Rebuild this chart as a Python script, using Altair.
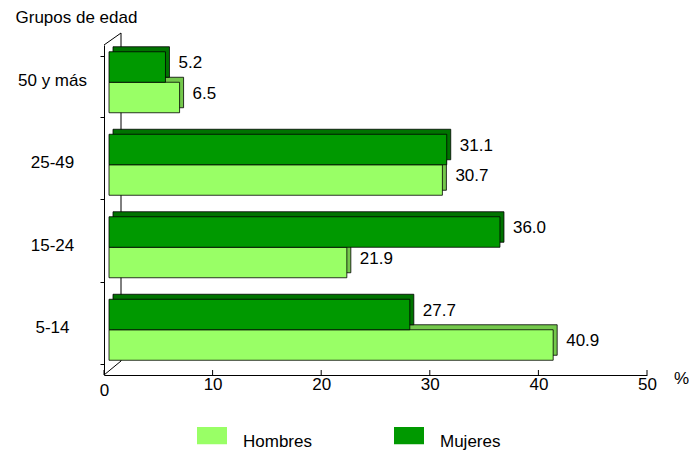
import altair as alt
import pandas as pd

grupos = ["50 y más", "25-49", "15-24", "5-14"]
hombres = [6.5, 30.7, 21.9, 40.9]
mujeres = [5.2, 31.1, 36.0, 27.7]
series = ["Hombres", "Mujeres"]
x_ticks = [0, 10, 20, 30, 40, 50]

rows = []
for g, h, m in zip(grupos, hombres, mujeres):
    rows.append({"grupo": g, "sexo": "Hombres", "valor": h})
    rows.append({"grupo": g, "sexo": "Mujeres", "valor": m})
df = pd.DataFrame(rows)
ticks_df = pd.DataFrame({"t": x_ticks})
one = pd.DataFrame({"a": [0]})

W, H = 543, 330
FONT = "Liberation Sans"
FS = 17
FRONT = {"Hombres": "#99FF66", "Mujeres": "#009900"}
SIDE = {"Hombres": "#74C84C", "Mujeres": "#007300"}
BAR_H = 30.5
HALF = BAR_H / 2
DX, DY = 5, -4      # front face offset
SX, SY = 9, -9      # back (depth) offset

x_scale = alt.Scale(domain=[0, 50], nice=False, zero=True)
y_scale = alt.Scale(domain=grupos, paddingInner=0.26, paddingOuter=0.13)

y_axis = alt.Axis(
    title="Grupos de edad", titleAngle=0, titleAlign="left", titleBaseline="middle",
    titleX=-89, titleY=-28, titleFont=FONT, titleFontSize=FS, titleFontWeight="normal",
    titleColor="black",
    labelAlign="center", labelBaseline="middle", labelPadding=48, labelOffset=-6,
    labelFont=FONT, labelFontSize=FS, labelColor="black",
    tickBand="extent", tickSize=4, tickColor="black", domainColor="black",
    grid=False,
)
x_axis = alt.Axis(
    values=x_ticks, title="%", titleX=577, titleY=3, titleBaseline="middle",
    titleAlign="center", titleFont=FONT, titleFontSize=FS, titleFontWeight="normal",
    titleColor="black", labelFlush=False,
    labelFont=FONT, labelFontSize=FS, labelColor="black",
    labelPadding={"condition": {"test": "datum.value == 0", "value": 7}, "value": 1},
    ticks=False, domainColor="black", grid=False, format="d",
)

legend = alt.Legend(
    orient="none", legendX=93, legendY=382, direction="horizontal", title=None,
    symbolType="M-1,-1H1V0.15H-1Z", symbolSize=900, symbolStrokeWidth=0,
    symbolOpacity=1, labelOffset=16, columnPadding=82,
    labelFont=FONT, labelFontSize=FS, labelColor="black",
)

X = alt.X("valor:Q", scale=x_scale, axis=x_axis)
Y = alt.Y("grupo:N", sort=grupos, scale=y_scale, axis=y_axis)
C = alt.Color("sexo:N", scale=alt.Scale(domain=series, range=[FRONT[s] for s in series]),
              legend=legend)

base = alt.Chart(df)


def bars(sexo):
    sign = -1 if sexo == "Mujeres" else 1
    sub = base.transform_filter(alt.datum.sexo == sexo)
    shadow = sub.mark_bar(
        height=BAR_H, xOffset=SX, x2Offset=SX,
        yOffset=sign * HALF + SY, y2Offset=sign * HALF + SY,
        stroke="black", strokeWidth=0.8, color=SIDE[sexo],
    ).encode(x=X, y=Y)
    front = sub.mark_bar(
        height=BAR_H, xOffset=DX, x2Offset=DX,
        yOffset=sign * HALF + DY, y2Offset=sign * HALF + DY,
        stroke="black", strokeWidth=0.8,
    ).encode(x=X, y=Y, color=C)
    text = sub.mark_text(
        align="left", baseline="middle", dx=18, dy=sign * HALF - 8,
        font=FONT, fontSize=FS, color="black",
    ).encode(x=X, y=Y, text=alt.Text("valor:Q", format=".1f"))
    return shadow, front, text


h_shadow, h_front, h_text = bars("Hombres")
m_shadow, m_front, m_text = bars("Mujeres")

wall_top = alt.Chart(one).mark_rule(color="black", strokeWidth=1).encode(
    x=alt.value(0), y=alt.value(0), x2=alt.value(17), y2=alt.value(-12))
wall_bottom = alt.Chart(one).mark_rule(color="black", strokeWidth=1).encode(
    x=alt.value(0), y=alt.value(H), x2=alt.value(17), y2=alt.value(H - 14))
wall_back = alt.Chart(one).mark_rule(color="black", strokeWidth=1).encode(
    x=alt.value(17), y=alt.value(-12), x2=alt.value(17), y2=alt.value(H - 14))

xticks = alt.Chart(ticks_df).mark_rule(color="black", strokeWidth=1).encode(
    x=alt.X("t:Q", scale=x_scale, axis=x_axis),
    y=alt.value(H - 5), y2=alt.value(H),
)

chart = alt.layer(
    h_shadow, wall_back, h_front, m_shadow, m_front, h_text, m_text,
    wall_top, wall_bottom, xticks
).properties(
    width=W, height=H,
    padding={"left": 96, "top": 37, "right": 42, "bottom": 75},
    autosize="none",
    background="white",
).configure_view(stroke=None)

chart.save("out.html", embed_options={"renderer": "svg", "actions": False})
